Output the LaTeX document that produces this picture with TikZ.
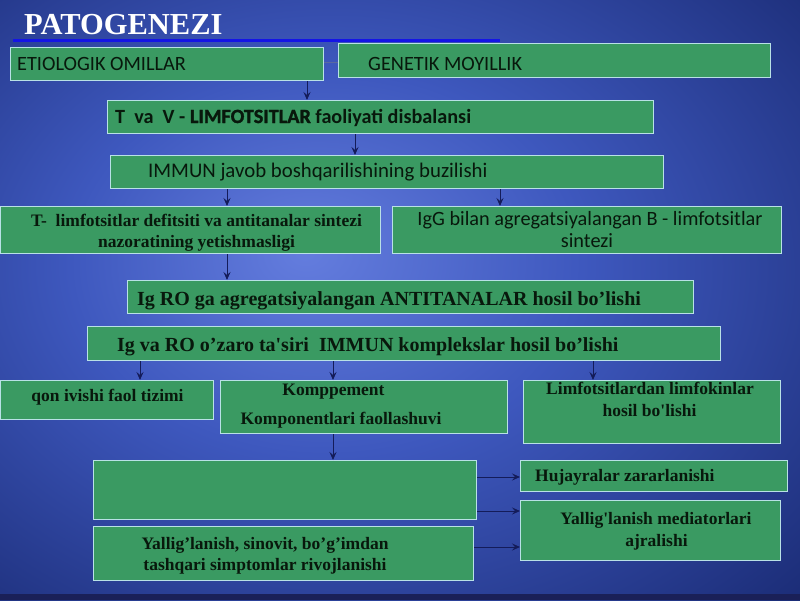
\documentclass[tikz,border=0pt]{standalone}
\usepackage{fontspec}
\setmainfont{Liberation Serif}
\newfontfamily\cali{Carlito}
\newfontfamily\caliheavy{Carlito}[BoldFeatures={FakeBold=1.5}]
\usetikzlibrary{arrows.meta}
\definecolor{boxgreen}{RGB}{58,154,98}
\definecolor{boxedge}{RGB}{185,225,230}
\definecolor{txtdark}{RGB}{8,24,12}
\definecolor{arrcol}{RGB}{20,28,90}
\definecolor{conncol}{RGB}{90,105,160}
\definecolor{bgin}{RGB}{100,125,222}
\definecolor{bgmid}{RGB}{62,88,190}
\definecolor{bgout}{RGB}{22,38,108}
\definecolor{bandcol}{RGB}{26,32,88}
\definecolor{ulblue}{RGB}{20,20,230}
\pgfdeclareradialshading{bgshade}{\pgfpoint{-6bp}{4bp}}{color(0bp)=(bgin); color(16bp)=(bgmid); color(42bp)=(bgout); color(70bp)=(bgout)}
\begin{document}
\begin{tikzpicture}[x=1pt,y=-1pt,
  box/.style={draw=boxedge, line width=1.1pt, fill=boxgreen, inner sep=0pt, anchor=north west},
  txt/.style={text=txtdark, inner sep=0pt},
  sertxt/.style={txt, font=\fontsize{17.5}{21}\selectfont\bfseries},
  serbig/.style={txt, font=\fontsize{20}{24}\selectfont\bfseries},
  santxt/.style={txt, font=\fontsize{20.3}{24}\selectfont\cali},
  arr/.style={draw=arrcol, line width=0.9pt, -{Stealth[length=8pt,width=7pt,inset=3pt]}},
  conn/.style={draw=conncol, line width=1pt},
]
% background
\useasboundingbox (0,0) rectangle (800,600);
\shade[shading=bgshade] (0,0) rectangle (800,600);
\fill[bandcol] (0,594) rectangle (800,600);

% title
\node[anchor=base west, inner sep=0pt, text=white, font=\fontsize{30.5}{33}\selectfont\bfseries] (title) at (24,34.3) {PATOGENEZI};
\draw[ulblue, line width=3pt] (13,40) -- (500,40);

% boxes
\node[box, minimum width=313pt, minimum height=33pt] (b1) at (10,47) {};
\node[box, minimum width=432pt, minimum height=34pt] (b2) at (338,43) {};
\node[box, minimum width=546pt, minimum height=33pt] (b3) at (107,100) {};
\node[box, minimum width=553pt, minimum height=33pt] (b4) at (110,155) {};
\node[box, minimum width=380pt, minimum height=47pt] (b5) at (0,206) {};
\node[box, minimum width=389pt, minimum height=47pt] (b6) at (392,206) {};
\node[box, minimum width=566pt, minimum height=33pt] (b7) at (127,280) {};
\node[box, minimum width=633pt, minimum height=34pt] (b8) at (87,326) {};
\node[box, minimum width=213pt, minimum height=39pt] (b9) at (0,380) {};
\node[box, minimum width=287pt, minimum height=53pt] (b10) at (220,380) {};
\node[box, minimum width=257pt, minimum height=63pt] (b11) at (523,380) {};
\node[box, minimum width=383pt, minimum height=59pt] (b12) at (93,460) {};
\node[box, minimum width=380pt, minimum height=54pt] (b13) at (93,526) {};
\node[box, minimum width=267pt, minimum height=31pt] (b14) at (520,460) {};
\node[box, minimum width=260pt, minimum height=60pt] (b15) at (520,500) {};

% texts
\node[santxt, anchor=base west] (t1) at (17,70.5) {ETIOLOGIK OMILLAR};
\node[santxt, anchor=base west] (t2) at (368,70.5) {GENETIK MOYILLIK};
\node[txt, anchor=base west, font=\fontsize{20.2}{24}\selectfont\cali\bfseries] (t3) at (115,123) {T\ \ va\ \ V - {\caliheavy\bfseries LIMFOTSITLAR} faoliyati disbalansi};
\node[santxt, anchor=base west, font=\fontsize{20.8}{24}\selectfont\cali] (t4) at (148,177) {IMMUN javob boshqarilishining buzilishi};
\node[sertxt, anchor=base] (t5a) at (196.5,226) {T-\ \ limfotsitlar defitsiti va antitanalar sintezi};
\node[sertxt, anchor=base] (t5b) at (196.5,247) {nazoratining yetishmasligi};
\node[santxt, anchor=base] (t6a) at (590,225) {IgG bilan agregatsiyalangan B - limfotsitlar};
\node[santxt, anchor=base] (t6b) at (587,247) {sintezi};
\node[serbig, anchor=base west] (t7) at (137,305.5) {Ig RO ga agregatsiyalangan ANTITANALAR hosil bo’lishi};
\node[serbig, anchor=base west] (t8) at (117,351.5) {Ig va RO o’zaro ta\textquotesingle siri\ \ IMMUN komplekslar hosil bo’lishi};
\node[sertxt, anchor=base] (t9) at (107.5,401.5) {qon ivishi faol tizimi};
\node[sertxt, anchor=base] (t10a) at (333.5,395) {Komppement};
\node[sertxt, anchor=base] (t10b) at (341,424) {Komponentlari faollashuvi};
\node[sertxt, anchor=base] (t11a) at (650,394) {Limfotsitlardan limfokinlar};
\node[sertxt, anchor=base] (t11b) at (649.5,416) {hosil bo\textquotesingle lishi};
\node[sertxt, anchor=base] (t13a) at (265,549) {Yallig’lanish, sinovit, bo’g’imdan};
\node[sertxt, anchor=base] (t13b) at (265,570.5) {tashqari simptomlar rivojlanishi};
\node[sertxt, anchor=base west] (t14) at (535,481.5) {Hujayralar zararlanishi};
\node[sertxt, anchor=base] (t15a) at (656,524) {Yallig\textquotesingle lanish mediatorlari};
\node[sertxt, anchor=base] (t15b) at (656.5,546) {ajralishi};

% guide coordinates
\coordinate (x140) at (140,0);
\coordinate (x227) at (227,0);
\coordinate (x307) at (307,0);
\coordinate (x333) at (333,0);
\coordinate (x355) at (355,0);
\coordinate (x500) at (500,0);
\coordinate (x593) at (593,0);
\coordinate (y62) at (0,62);
\coordinate (y477) at (0,477);
\coordinate (y511) at (0,511);
\coordinate (y547) at (0,547);

% connectors
\draw[conn] (b1.east |- y62) -- (b2.west |- y62);
\draw[arr] (b1.south -| x307) -- (b3.north -| x307);
\draw[arr] (b3.south -| x355) -- (b4.north -| x355);
\draw[arr] (b4.south -| x227) -- (b5.north -| x227);
\draw[arr] (b4.south -| x500) -- (b6.north -| x500);
\draw[arr] (b5.south -| x227) -- (b7.north -| x227);
\draw[arr] (b8.south -| x140) -- (b9.north -| x140);
\draw[arr] (b8.south -| x333) -- (b10.north -| x333);
\draw[arr] (b8.south -| x593) -- (b11.north -| x593);
\draw[arr] (b10.south -| x333) -- (b12.north -| x333);
\draw[arr] (b12.east |- y477) -- (b14.west |- y477);
\draw[arr] (b12.east |- y511) -- (b15.west |- y511);
\draw[arr] (b13.east |- y547) -- (b15.west |- y547);
\end{tikzpicture}
\end{document}
